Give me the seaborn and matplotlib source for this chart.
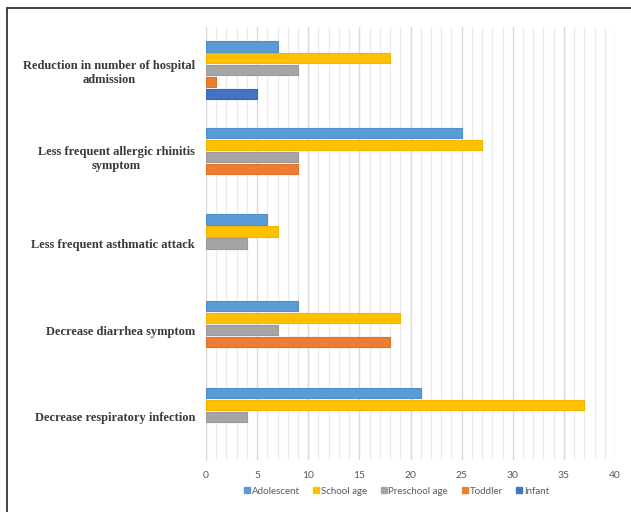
import matplotlib
matplotlib.use("Agg")
import matplotlib.pyplot as plt
from matplotlib.lines import Line2D
from matplotlib.ticker import MultipleLocator
import seaborn as sns
import pandas as pd
import numpy as np

categories = [
    "Reduction in number of hospital\nadmission",
    "Less frequent allergic rhinitis\nsymptom",
    "Less frequent asthmatic attack",
    "Decrease diarrhea symptom",
    "Decrease respiratory infection",
]
groups = ["Adolescent", "School age", "Preschool age", "Toddler", "Infant"]
adolescent = [7, 25, 6, 9, 21]
school_age = [18, 27, 7, 19, 37]
preschool_age = [9, 9, 4, 7, 4]
toddler = [1, 9, None, 18, None]
infant = [5, None, None, None, None]
colors = ["#5B9BD5", "#FFC000", "#A5A5A5", "#ED7D31", "#4472C4"]
edges = ["#4f8fca", "#f2b600", "#999999", "#e07128", "#3a66b8"]
xticks = [0, 5, 10, 15, 20, 25, 30, 35, 40]

series = [adolescent, school_age, preschool_age, toddler, infant]
rows = []
for g, vals in zip(groups, series):
    for c, v in zip(categories, vals):
        if v is not None:
            rows.append({"category": c, "group": g, "value": v})
df = pd.DataFrame(rows)

sns.set_style("white")
fig = plt.figure(figsize=(6.31, 5.12), dpi=100)
ax = fig.add_axes([206/631, 1-460/512, (615-206)/631, (460-27)/512])

sns.barplot(data=df, y="category", x="value", hue="group", order=categories,
            hue_order=groups, palette=colors, saturation=1, orient="h",
            width=0.69, gap=0.14, ax=ax, zorder=3, linewidth=0.8)
for cont, ec in zip(ax.containers, edges):
    for p in cont:
        p.set_edgecolor(ec)

ax.set_xlim(0, 40)
ax.set_ylim(4.5, -0.5)
ax.set_xticks(xticks)
ax.xaxis.set_minor_locator(MultipleLocator(1))
ax.grid(axis="x", which="major", color="#d9d9d9", lw=1.0, zorder=0)
ax.grid(axis="x", which="minor", color="#ebebeb", lw=0.9, zorder=0)
ax.set_axisbelow(True)
ax.tick_params(axis="x", which="both", length=0, labelsize=7.5, labelcolor="#595959", pad=8)
ax.set_yticks(range(len(categories)))
ax.set_yticks(np.arange(-0.5, 5, 1.0), minor=True)
ax.tick_params(axis="y", which="major", length=0, pad=8)
ax.tick_params(axis="y", which="minor", length=5, color="#d9d9d9", width=0.8)
for lab in ax.get_yticklabels():
    lab.set_fontfamily("Liberation Serif")
    lab.set_fontweight("bold")
    lab.set_fontsize(9)
    lab.set_color("#3a3a3a")
    lab.set_multialignment("center")
for lab in ax.get_xticklabels():
    lab.set_fontfamily("Lato")
ax.set_xlabel("")
ax.set_ylabel("")
for s in ["top", "right", "bottom"]:
    ax.spines[s].set_visible(False)
ax.spines["left"].set_color("#d9d9d9")
ax.spines["left"].set_linewidth(0.8)

handles = [Line2D([], [], marker="s", ls="", color=c, markersize=4.5) for c in colors]
ax.legend(handles, groups, loc="center", bbox_to_anchor=(396/631, 1-491/512),
          bbox_transform=fig.transFigure, ncol=5, frameon=False,
          labelcolor="#595959", handletextpad=0.1, columnspacing=1.3,
          handlelength=0.8, prop={"family": "Lato", "size": 7})

fig.add_artist(Line2D([7/631, 1], [1-8/512, 1-8/512], transform=fig.transFigure, color="#333333", lw=1.3))
fig.add_artist(Line2D([7/631, 7/631], [0, 1-8/512], transform=fig.transFigure, color="#333333", lw=1.3))

fig.savefig("out.png", dpi=100)
